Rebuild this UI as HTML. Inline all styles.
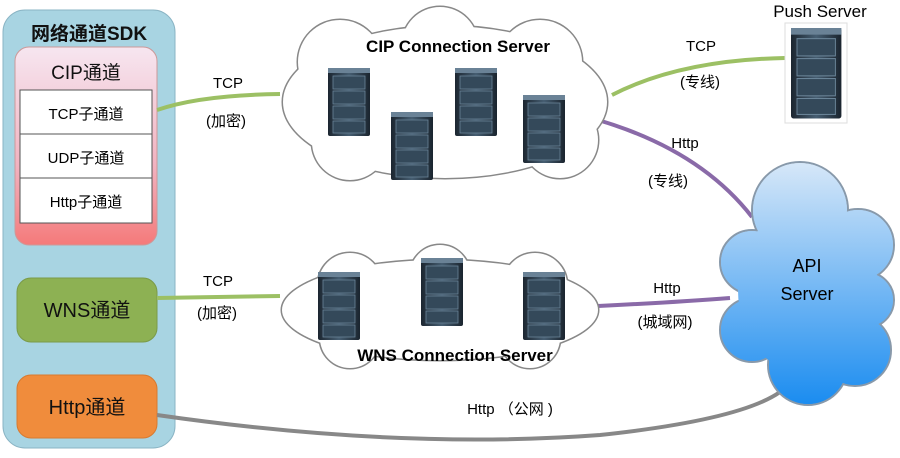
<!DOCTYPE html>
<html><head><meta charset="utf-8"><style>
body{margin:0;width:900px;height:453px;overflow:hidden;background:#fff;font-family:"Liberation Sans","Noto Sans CJK SC",sans-serif}
svg text{font-family:"Liberation Sans","Noto Sans CJK SC",sans-serif}
</style></head><body>
<svg width="900" height="453" viewBox="0 0 900 453" xmlns="http://www.w3.org/2000/svg">
<defs>
<linearGradient id="pk" x1="0" y1="0" x2="0" y2="1"><stop offset="0" stop-color="#f6e6f0"/><stop offset="0.6" stop-color="#f2b2c0"/><stop offset="1" stop-color="#f47a7a"/></linearGradient>
<linearGradient id="bl" gradientUnits="userSpaceOnUse" x1="0" y1="160" x2="0" y2="405"><stop offset="0" stop-color="#d8e8f8"/><stop offset="1" stop-color="#1a8cf0"/></linearGradient>
<linearGradient id="sv" x1="0" y1="0" x2="1" y2="0"><stop offset="0" stop-color="#1c2630"/><stop offset="0.5" stop-color="#465e72"/><stop offset="1" stop-color="#1a242e"/></linearGradient>
<g id="srv"><rect x="0" y="0" width="42" height="68" rx="2" fill="url(#sv)"/><rect x="0" y="0" width="42" height="5" fill="#6a8296"/><rect x="5" y="8" width="32" height="13" fill="#34495a" stroke="#6a8498" stroke-width="0.8"/><rect x="5" y="23" width="32" height="13" fill="#34495a" stroke="#6a8498" stroke-width="0.8"/><rect x="5" y="38" width="32" height="13" fill="#34495a" stroke="#6a8498" stroke-width="0.8"/><rect x="5" y="53" width="32" height="12" fill="#34495a" stroke="#6a8498" stroke-width="0.8"/></g>
</defs>
<rect x="3" y="10" width="172" height="438" rx="22" fill="#a8d4e2" stroke="#8ab4c4"/>
<text x="89" y="40" font-size="19" font-weight="bold" text-anchor="middle" fill="#111">网络通道SDK</text>
<rect x="15" y="47" width="142" height="198" rx="14" fill="url(#pk)" stroke="#c99"/>
<text x="86" y="79" font-size="19" text-anchor="middle" fill="#111">CIP通道</text>
<rect x="20" y="90" width="132" height="133" fill="#fff" stroke="#555"/>
<line x1="20" y1="134" x2="152" y2="134" stroke="#555"/><line x1="20" y1="178" x2="152" y2="178" stroke="#555"/>
<text x="86" y="119" font-size="15" text-anchor="middle">TCP子通道</text>
<text x="86" y="163" font-size="15" text-anchor="middle">UDP子通道</text>
<text x="86" y="207" font-size="15" text-anchor="middle">Http子通道</text>
<rect x="17" y="278" width="140" height="64" rx="14" fill="#8db153" stroke="#7a9a48"/>
<text x="87" y="317" font-size="20" text-anchor="middle" fill="#111">WNS通道</text>
<rect x="17" y="375" width="140" height="63" rx="14" fill="#f08c3c" stroke="#d77a30"/>
<text x="87" y="414" font-size="20" text-anchor="middle" fill="#111">Http通道</text>
<path d="M157 110 Q200 95 280 94" stroke="#9cc064" stroke-width="4" fill="none"/>
<path d="M157 298 L280 296" stroke="#9cc064" stroke-width="4" fill="none"/>
<path d="M612 95 Q680 60 785 58" stroke="#9cc064" stroke-width="4" fill="none"/>
<path d="M598 120 Q700 150 752 217" stroke="#8a6aa8" stroke-width="4" fill="none"/>
<path d="M598 306 Q680 302 730 298" stroke="#8a6aa8" stroke-width="4" fill="none"/>
<path d="M157 415 Q400 450 600 435 Q740 420 780 392" stroke="#888" stroke-width="4" fill="none"/>
<g stroke="#888" stroke-width="3" fill="#fff">
<ellipse cx="445" cy="102" rx="162" ry="76"/><circle cx="340" cy="62" r="42"/><circle cx="440" cy="45" r="38"/><circle cx="540" cy="62" r="42"/><circle cx="560" cy="140" r="38"/><circle cx="350" cy="142" r="38"/>
</g>
<g fill="#fff">
<ellipse cx="445" cy="102" rx="162" ry="76"/><circle cx="340" cy="62" r="42"/><circle cx="440" cy="45" r="38"/><circle cx="540" cy="62" r="42"/><circle cx="560" cy="140" r="38"/><circle cx="350" cy="142" r="38"/>
</g>
<text x="458" y="52" font-size="17" font-weight="bold" text-anchor="middle">CIP Connection Server</text>
<use href="#srv" x="328" y="68"/><use href="#srv" x="391" y="112"/><use href="#srv" x="455" y="68"/><use href="#srv" x="523" y="95"/>
<g stroke="#888" stroke-width="3" fill="#fff">
<ellipse cx="440" cy="310" rx="158" ry="50"/><circle cx="350" cy="285" r="32"/><circle cx="440" cy="275" r="30"/><circle cx="535" cy="285" r="32"/><circle cx="530" cy="338" r="30"/><circle cx="350" cy="338" r="30"/>
</g>
<g fill="#fff">
<ellipse cx="440" cy="310" rx="158" ry="50"/><circle cx="350" cy="285" r="32"/><circle cx="440" cy="275" r="30"/><circle cx="535" cy="285" r="32"/><circle cx="530" cy="338" r="30"/><circle cx="350" cy="338" r="30"/>
</g>
<use href="#srv" x="318" y="272"/><use href="#srv" x="421" y="258"/><use href="#srv" x="523" y="272"/>
<text x="455" y="361" font-size="17" font-weight="bold" text-anchor="middle">WNS Connection Server</text>
<g stroke="#8899aa" stroke-width="2" fill="url(#bl)">
<circle cx="800" cy="210" r="48"/><circle cx="858" cy="245" r="36"/><circle cx="866" cy="300" r="28"/><circle cx="855" cy="350" r="36"/><circle cx="808" cy="365" r="40"/><circle cx="752" cy="330" r="32"/><circle cx="752" cy="262" r="32"/>
</g>
<g fill="url(#bl)"><circle cx="800" cy="210" r="47"/><circle cx="858" cy="245" r="35"/><circle cx="866" cy="300" r="27"/><circle cx="855" cy="350" r="35"/><circle cx="808" cy="365" r="39"/><circle cx="752" cy="330" r="31"/><circle cx="752" cy="262" r="31"/><ellipse cx="808" cy="290" rx="70" ry="85"/></g>
<text x="807" y="272" font-size="18" text-anchor="middle">API</text>
<text x="807" y="300" font-size="18" text-anchor="middle">Server</text>
<text x="820" y="17" font-size="17" text-anchor="middle">Push Server</text>
<rect x="785" y="23" width="62" height="100" fill="#fff" stroke="#ddd"/>
<use href="#srv" transform="translate(791,28) scale(1.2,1.33)"/>
<g font-size="15" text-anchor="middle">
<text x="228" y="88">TCP</text><text x="226" y="126">(加密)</text>
<text x="218" y="286">TCP</text><text x="217" y="318">(加密)</text>
<text x="701" y="51">TCP</text><text x="700" y="87">(专线)</text>
<text x="685" y="148">Http</text><text x="668" y="186">(专线)</text>
<text x="667" y="293">Http</text><text x="665" y="327">(城域网)</text>
<text x="510" y="414">Http （公网 )</text>
</g>
</svg>
</body></html>
